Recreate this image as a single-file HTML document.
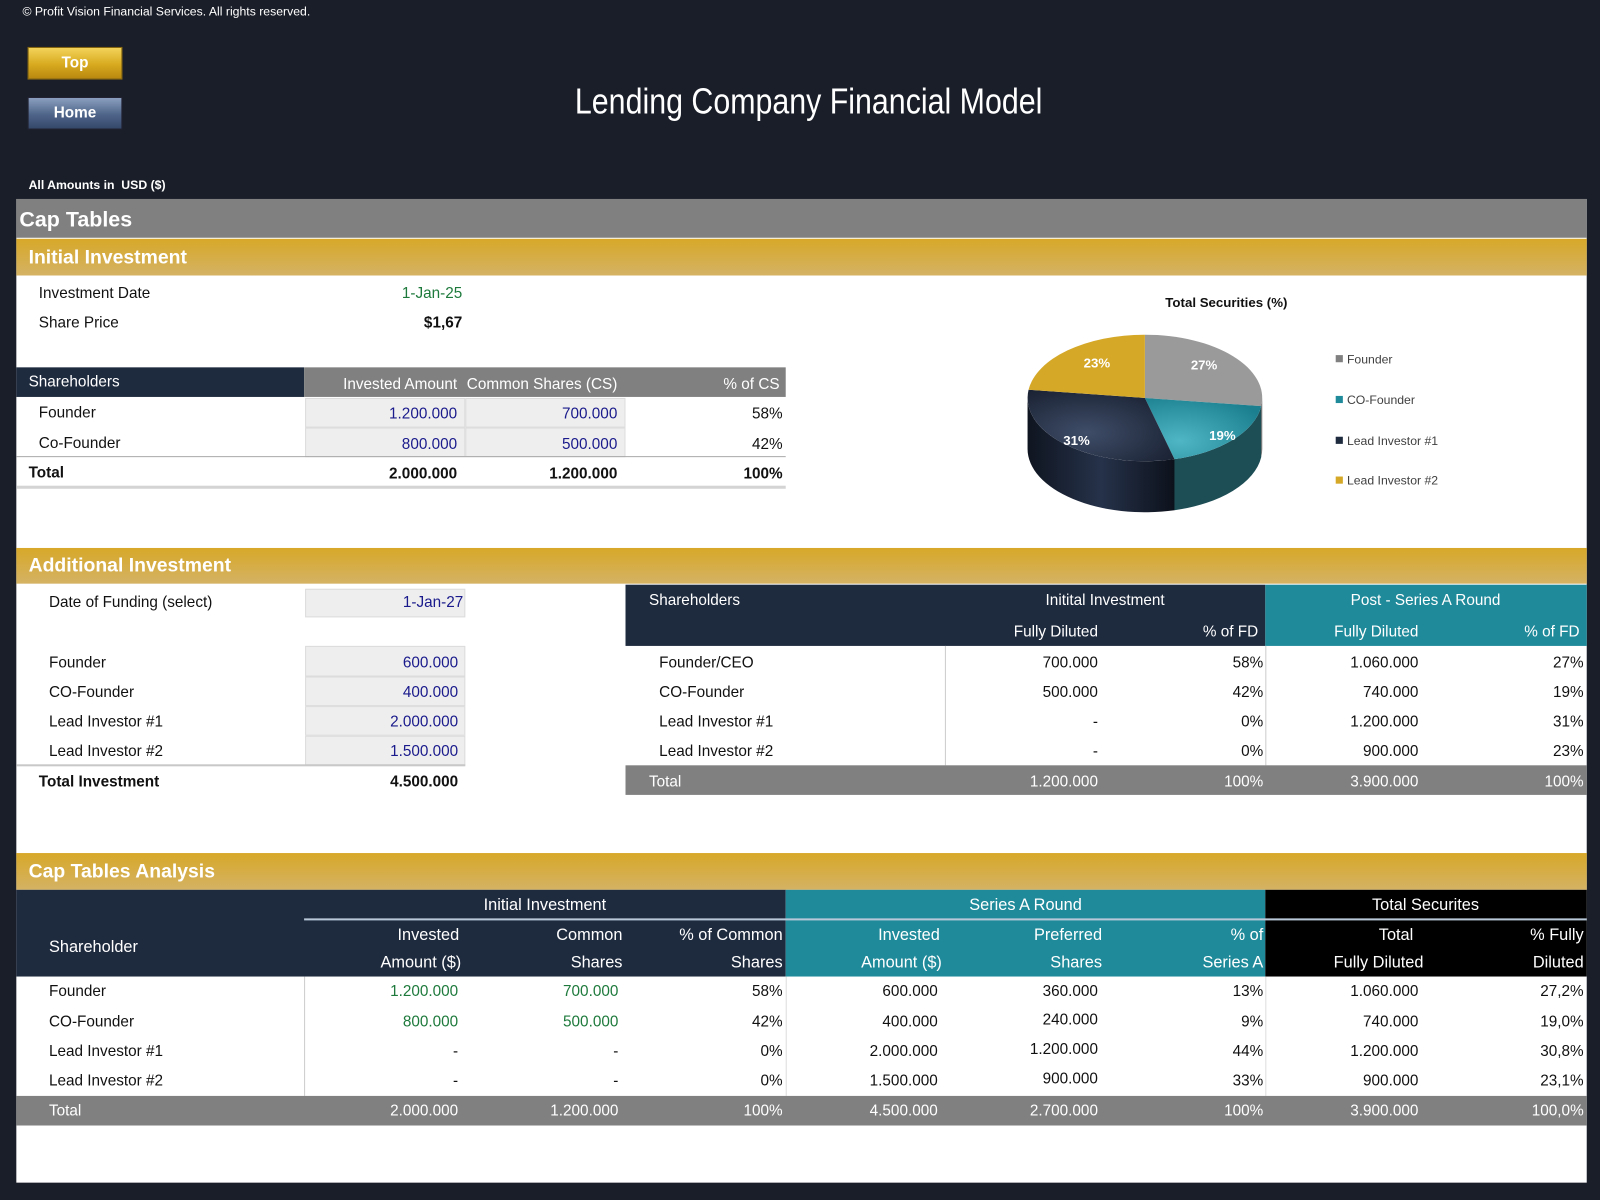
<!DOCTYPE html>
<html><head><meta charset="utf-8"><style>
html,body{margin:0;padding:0;width:1600px;height:1200px;overflow:hidden;background:#1b1f29}
#w{position:absolute;left:0;top:0;width:1568px;height:1176px;transform:scale(1.020408);transform-origin:0 0;background:#1a1e28;font-family:"Liberation Sans Narrow","Liberation Sans",sans-serif}
.a{position:absolute}
.t{position:absolute;line-height:18px;font-size:15px;white-space:nowrap;color:#111}
.r{text-align:right}
.b{font-weight:bold}
.wt{color:#fff}
.bl{color:#1a1a8c}
.gr{color:#1e7a3c}
.box{position:absolute;background:#eeeeee;border:1px solid #dcdcdc;box-sizing:border-box}
</style></head><body><div id="w">
<div class="t wt" style="left:22px;top:2px;font-size:12px">© Profit Vision Financial Services. All rights reserved.</div>
<div class="a" style="left:27px;top:46px;width:93px;height:32px;background:linear-gradient(#f3d35a,#d7a91e 55%,#b8880f);border:1px solid #8a6a10;box-sizing:border-box"></div>
<div class="t wt b" style="left:27px;top:53px;width:93px;text-align:center;font-size:15px">Top</div>
<div class="a" style="left:27px;top:95px;width:93px;height:32px;background:linear-gradient(#8ba0c0,#4e6488 55%,#34486a);border:1px solid #223;box-sizing:border-box"></div>
<div class="t wt b" style="left:27px;top:102px;width:93px;text-align:center;font-size:15px">Home</div>
<div class="t wt" style="left:0;width:1584px;text-align:center;top:78px;line-height:44px;font-size:35px"><span style="display:inline-block;transform:scaleX(0.85)">Lending Company Financial Model</span></div>
<div class="t wt b" style="left:28px;top:172px;font-size:12px">All Amounts in&nbsp; USD ($)</div>

<div class="a" style="left:16px;top:195px;width:1539px;height:964px;background:#fff"></div>
<div class="a" style="left:16px;top:195px;width:1539px;height:38px;background:#808080"></div>
<div class="t wt b" style="left:19px;top:204px;font-size:21px;line-height:24px">Cap Tables</div>
<div class="a" style="left:16px;top:234px;width:1539px;height:36px;background:linear-gradient(#d7a828,#d4b264)"></div>
<div class="t wt b" style="left:28px;top:242px;font-size:19px;line-height:22px">Initial Investment</div>

<div class="t" style="left:38px;top:279px">Investment Date</div>
<div class="t r gr" style="right:1115px;top:279px">1-Jan-25</div>
<div class="t" style="left:38px;top:308px">Share Price</div>
<div class="t r b" style="right:1115px;top:308px">$1,67</div>

<div class="a" style="left:16px;top:360px;width:282px;height:29px;background:#1e2a3e"></div>
<div class="a" style="left:298px;top:360px;width:472px;height:29px;background:#808080"></div>
<div class="t wt" style="left:28px;top:366px">Shareholders</div>
<div class="t wt r" style="right:1120px;top:368px">Invested Amount</div>
<div class="t wt r" style="right:963px;top:368px">Common Shares (CS)</div>
<div class="t wt r" style="right:804px;top:368px">% of CS</div>
<div class="box" style="left:299px;top:390px;width:157px;height:29px"></div>
<div class="box" style="left:456px;top:390px;width:157px;height:29px"></div>
<div class="box" style="left:299px;top:419px;width:157px;height:29px"></div>
<div class="box" style="left:456px;top:419px;width:157px;height:29px"></div>
<div class="t" style="left:38px;top:396px">Founder</div>
<div class="t r bl" style="right:1120px;top:397px">1.200.000</div>
<div class="t r bl" style="right:963px;top:397px">700.000</div>
<div class="t r" style="right:801px;top:397px">58%</div>
<div class="t" style="left:38px;top:426px">Co-Founder</div>
<div class="t r bl" style="right:1120px;top:427px">800.000</div>
<div class="t r bl" style="right:963px;top:427px">500.000</div>
<div class="t r" style="right:801px;top:427px">42%</div>
<div class="a" style="left:16px;top:447px;width:754px;height:1px;background:#aaa"></div>
<div class="t b" style="left:28px;top:455px">Total</div>
<div class="t r b" style="right:1120px;top:456px">2.000.000</div>
<div class="t r b" style="right:963px;top:456px">1.200.000</div>
<div class="t r b" style="right:801px;top:456px">100%</div>
<div class="a" style="left:16px;top:476px;width:754px;height:3px;background:#d4d4d4"></div>

<div class="t b" style="left:1142px;top:288px;font-size:13px">Total Securities (%)</div>
<svg class="a" style="left:0;top:0" width="1568" height="1176">
<defs>
<radialGradient id="gN" cx="0.4" cy="0.6" r="0.7"><stop offset="0" stop-color="#3f4d68"/><stop offset="1" stop-color="#1a2233"/></radialGradient>
<radialGradient id="gT" cx="0.3" cy="0.7" r="0.8"><stop offset="0" stop-color="#4fb6c6"/><stop offset="1" stop-color="#1b7f8f"/></radialGradient>
<linearGradient id="gS" x1="0" x2="1"><stop offset="0" stop-color="#0f1520"/><stop offset="0.5" stop-color="#26324a"/><stop offset="1" stop-color="#0c111b"/></linearGradient>
</defs>
<path d="M1151,450 A115,62 0 0 1 1007,390 L1007,440 A115,62 0 0 0 1151,500 Z" fill="url(#gS)"/>
<path d="M1236,398 A115,62 0 0 1 1151,450 L1151,500 A115,62 0 0 0 1236,448 Z" fill="#1d4d55"/>
<path d="M1237,390 A115,62 0 0 1 1236,398 L1236,448 A115,62 0 0 0 1237,440 Z" fill="#6a6a6a"/>
<path d="M1122,390 L1122,328 A115,62 0 0 1 1236,398 Z" fill="#9a9a9a"/>
<path d="M1122,390 L1236,398 A115,62 0 0 1 1151,450 Z" fill="url(#gT)"/>
<path d="M1122,390 L1151,450 A115,62 0 0 1 1008,382 Z" fill="url(#gN)"/>
<path d="M1122,390 L1008,382 A115,62 0 0 1 1122,328 Z" fill="#d5a828"/>
<g font-family="Liberation Sans Narrow,Liberation Sans,sans-serif" font-size="13" font-weight="bold" fill="#fff" text-anchor="middle">
<text x="1180" y="362">27%</text><text x="1198" y="431">19%</text><text x="1055" y="436">31%</text><text x="1075" y="360">23%</text></g>
<g font-family="Liberation Sans Narrow,Liberation Sans,sans-serif" font-size="12" fill="#404040">
<rect x="1309" y="348" width="7" height="7" fill="#808080"/><text x="1320" y="356">Founder</text>
<rect x="1309" y="388" width="7" height="7" fill="#1f8a9a"/><text x="1320" y="396">CO-Founder</text>
<rect x="1309" y="428" width="7" height="7" fill="#1e2a3e"/><text x="1320" y="436">Lead Investor #1</text>
<rect x="1309" y="467" width="7" height="7" fill="#d5a828"/><text x="1320" y="475">Lead Investor #2</text></g>
</svg>

<div class="a" style="left:16px;top:537px;width:1539px;height:35px;background:linear-gradient(#d7a828,#d4b264)"></div>
<div class="t wt b" style="left:28px;top:544px;font-size:19px;line-height:22px">Additional Investment</div>
<div class="box" style="left:299px;top:577px;width:157px;height:28px"></div>
<div class="t" style="left:48px;top:582px">Date of Funding (select)</div>
<div class="t r bl" style="right:1114px;top:582px">1-Jan-27</div>
<div class="box" style="left:299px;top:633px;width:157px;height:30px"></div>
<div class="box" style="left:299px;top:663px;width:157px;height:29px"></div>
<div class="box" style="left:299px;top:692px;width:157px;height:29px"></div>
<div class="box" style="left:299px;top:721px;width:157px;height:29px"></div>
<div class="t" style="left:48px;top:641px">Founder</div><div class="t r bl" style="right:1119px;top:641px">600.000</div>
<div class="t" style="left:48px;top:670px">CO-Founder</div><div class="t r bl" style="right:1119px;top:670px">400.000</div>
<div class="t" style="left:48px;top:699px">Lead Investor #1</div><div class="t r bl" style="right:1119px;top:699px">2.000.000</div>
<div class="t" style="left:48px;top:728px">Lead Investor #2</div><div class="t r bl" style="right:1119px;top:728px">1.500.000</div>
<div class="a" style="left:16px;top:749px;width:440px;height:2px;background:#c8c8c8"></div>
<div class="t b" style="left:38px;top:758px">Total Investment</div><div class="t r b" style="right:1119px;top:758px">4.500.000</div>

<div class="a" style="left:613px;top:573px;width:627px;height:60px;background:#1e2a3e"></div>
<div class="a" style="left:1240px;top:573px;width:315px;height:60px;background:#1f8a9a"></div>
<div class="t wt" style="left:636px;top:580px">Shareholders</div>
<div class="t wt" style="left:983px;width:200px;text-align:center;top:580px">Initital Investment</div>
<div class="t wt" style="left:1297px;width:200px;text-align:center;top:580px">Post - Series A Round</div>
<div class="t wt r" style="right:492px;top:611px">Fully Diluted</div>
<div class="t wt r" style="right:335px;top:611px">% of FD</div>
<div class="t wt r" style="right:178px;top:611px">Fully Diluted</div>
<div class="t wt r" style="right:20px;top:611px">% of FD</div>
<div class="a" style="left:926px;top:633px;width:1px;height:117px;background:#ccc"></div>
<div class="a" style="left:1240px;top:633px;width:1px;height:117px;background:#ccc"></div>
<div class="t" style="left:646px;top:641px">Founder/CEO</div><div class="t r" style="right:492px;top:641px">700.000</div><div class="t r" style="right:330px;top:641px">58%</div><div class="t r" style="right:178px;top:641px">1.060.000</div><div class="t r" style="right:16px;top:641px">27%</div>
<div class="t" style="left:646px;top:670px">CO-Founder</div><div class="t r" style="right:492px;top:670px">500.000</div><div class="t r" style="right:330px;top:670px">42%</div><div class="t r" style="right:178px;top:670px">740.000</div><div class="t r" style="right:16px;top:670px">19%</div>
<div class="t" style="left:646px;top:699px">Lead Investor #1</div><div class="t r" style="right:492px;top:699px">-</div><div class="t r" style="right:330px;top:699px">0%</div><div class="t r" style="right:178px;top:699px">1.200.000</div><div class="t r" style="right:16px;top:699px">31%</div>
<div class="t" style="left:646px;top:728px">Lead Investor #2</div><div class="t r" style="right:492px;top:728px">-</div><div class="t r" style="right:330px;top:728px">0%</div><div class="t r" style="right:178px;top:728px">900.000</div><div class="t r" style="right:16px;top:728px">23%</div>
<div class="a" style="left:613px;top:750px;width:942px;height:29px;background:#808080"></div>
<div class="t wt" style="left:636px;top:758px">Total</div><div class="t wt r" style="right:492px;top:758px">1.200.000</div><div class="t wt r" style="right:330px;top:758px">100%</div><div class="t wt r" style="right:178px;top:758px">3.900.000</div><div class="t wt r" style="right:16px;top:758px">100%</div>

<div class="a" style="left:16px;top:836px;width:1539px;height:36px;background:linear-gradient(#d7a828,#d4b264)"></div>
<div class="t wt b" style="left:28px;top:844px;font-size:19px;line-height:22px">Cap Tables Analysis</div>
<div class="a" style="left:16px;top:872px;width:754px;height:85px;background:#1e2a3e"></div>
<div class="a" style="left:770px;top:872px;width:470px;height:85px;background:#1f8a9a"></div>
<div class="a" style="left:1240px;top:872px;width:315px;height:85px;background:#000"></div>
<div class="a" style="left:298px;top:900px;width:1257px;height:2px;background:#b8c8d8"></div>
<div class="t wt" style="left:434px;width:200px;text-align:center;top:879px;font-size:16px">Initial Investment</div>
<div class="t wt" style="left:905px;width:200px;text-align:center;top:879px;font-size:16px">Series A Round</div>
<div class="t wt" style="left:1297px;width:200px;text-align:center;top:879px;font-size:16px">Total Securites</div>
<div class="t wt" style="left:48px;top:920px;font-size:16px">Shareholder</div>
<div class="t wt r" style="right:1118px;top:908px;font-size:16px">Invested</div><div class="t wt r" style="right:1116px;top:935px;font-size:16px">Amount ($)</div>
<div class="t wt r" style="right:958px;top:908px;font-size:16px">Common</div><div class="t wt r" style="right:958px;top:935px;font-size:16px">Shares</div>
<div class="t wt r" style="right:801px;top:908px;font-size:16px">% of Common</div><div class="t wt r" style="right:801px;top:935px;font-size:16px">Shares</div>
<div class="t wt r" style="right:647px;top:908px;font-size:16px">Invested</div><div class="t wt r" style="right:645px;top:935px;font-size:16px">Amount ($)</div>
<div class="t wt r" style="right:488px;top:908px;font-size:16px">Preferred</div><div class="t wt r" style="right:488px;top:935px;font-size:16px">Shares</div>
<div class="t wt r" style="right:330px;top:908px;font-size:16px">% of</div><div class="t wt r" style="right:330px;top:935px;font-size:16px">Series A</div>
<div class="t wt r" style="right:183px;top:908px;font-size:16px">Total</div><div class="t wt r" style="right:173px;top:935px;font-size:16px">Fully Diluted</div>
<div class="t wt r" style="right:16px;top:908px;font-size:16px">% Fully</div><div class="t wt r" style="right:16px;top:935px;font-size:16px">Diluted</div>
<div class="a" style="left:298px;top:957px;width:1px;height:117px;background:#ccc"></div>
<div class="a" style="left:770px;top:957px;width:1px;height:117px;background:#ddd"></div>
<div class="a" style="left:1240px;top:957px;width:1px;height:117px;background:#ddd"></div>
<div class="t" style="left:48px;top:963px">Founder</div><div class="t r gr" style="right:1119px;top:963px">1.200.000</div><div class="t r gr" style="right:962px;top:963px">700.000</div><div class="t r" style="right:801px;top:963px">58%</div><div class="t r" style="right:649px;top:963px">600.000</div><div class="t r" style="right:492px;top:963px">360.000</div><div class="t r" style="right:330px;top:963px">13%</div><div class="t r" style="right:178px;top:963px">1.060.000</div><div class="t r" style="right:16px;top:963px">27,2%</div>
<div class="t" style="left:48px;top:993px">CO-Founder</div><div class="t r gr" style="right:1119px;top:993px">800.000</div><div class="t r gr" style="right:962px;top:993px">500.000</div><div class="t r" style="right:801px;top:993px">42%</div><div class="t r" style="right:649px;top:993px">400.000</div><div class="t r" style="right:492px;top:991px">240.000</div><div class="t r" style="right:330px;top:993px">9%</div><div class="t r" style="right:178px;top:993px">740.000</div><div class="t r" style="right:16px;top:993px">19,0%</div>
<div class="t" style="left:48px;top:1022px">Lead Investor #1</div><div class="t r" style="right:1119px;top:1022px">-</div><div class="t r" style="right:962px;top:1022px">-</div><div class="t r" style="right:801px;top:1022px">0%</div><div class="t r" style="right:649px;top:1022px">2.000.000</div><div class="t r" style="right:492px;top:1020px">1.200.000</div><div class="t r" style="right:330px;top:1022px">44%</div><div class="t r" style="right:178px;top:1022px">1.200.000</div><div class="t r" style="right:16px;top:1022px">30,8%</div>
<div class="t" style="left:48px;top:1051px">Lead Investor #2</div><div class="t r" style="right:1119px;top:1051px">-</div><div class="t r" style="right:962px;top:1051px">-</div><div class="t r" style="right:801px;top:1051px">0%</div><div class="t r" style="right:649px;top:1051px">1.500.000</div><div class="t r" style="right:492px;top:1049px">900.000</div><div class="t r" style="right:330px;top:1051px">33%</div><div class="t r" style="right:178px;top:1051px">900.000</div><div class="t r" style="right:16px;top:1051px">23,1%</div>
<div class="a" style="left:16px;top:1074px;width:1539px;height:29px;background:#808080"></div>
<div class="t wt" style="left:48px;top:1080px">Total</div><div class="t r wt" style="right:1119px;top:1080px">2.000.000</div><div class="t r wt" style="right:962px;top:1080px">1.200.000</div><div class="t r wt" style="right:801px;top:1080px">100%</div><div class="t r wt" style="right:649px;top:1080px">4.500.000</div><div class="t r wt" style="right:492px;top:1080px">2.700.000</div><div class="t r wt" style="right:330px;top:1080px">100%</div><div class="t r wt" style="right:178px;top:1080px">3.900.000</div><div class="t r wt" style="right:16px;top:1080px">100,0%</div>
</div></body></html>
